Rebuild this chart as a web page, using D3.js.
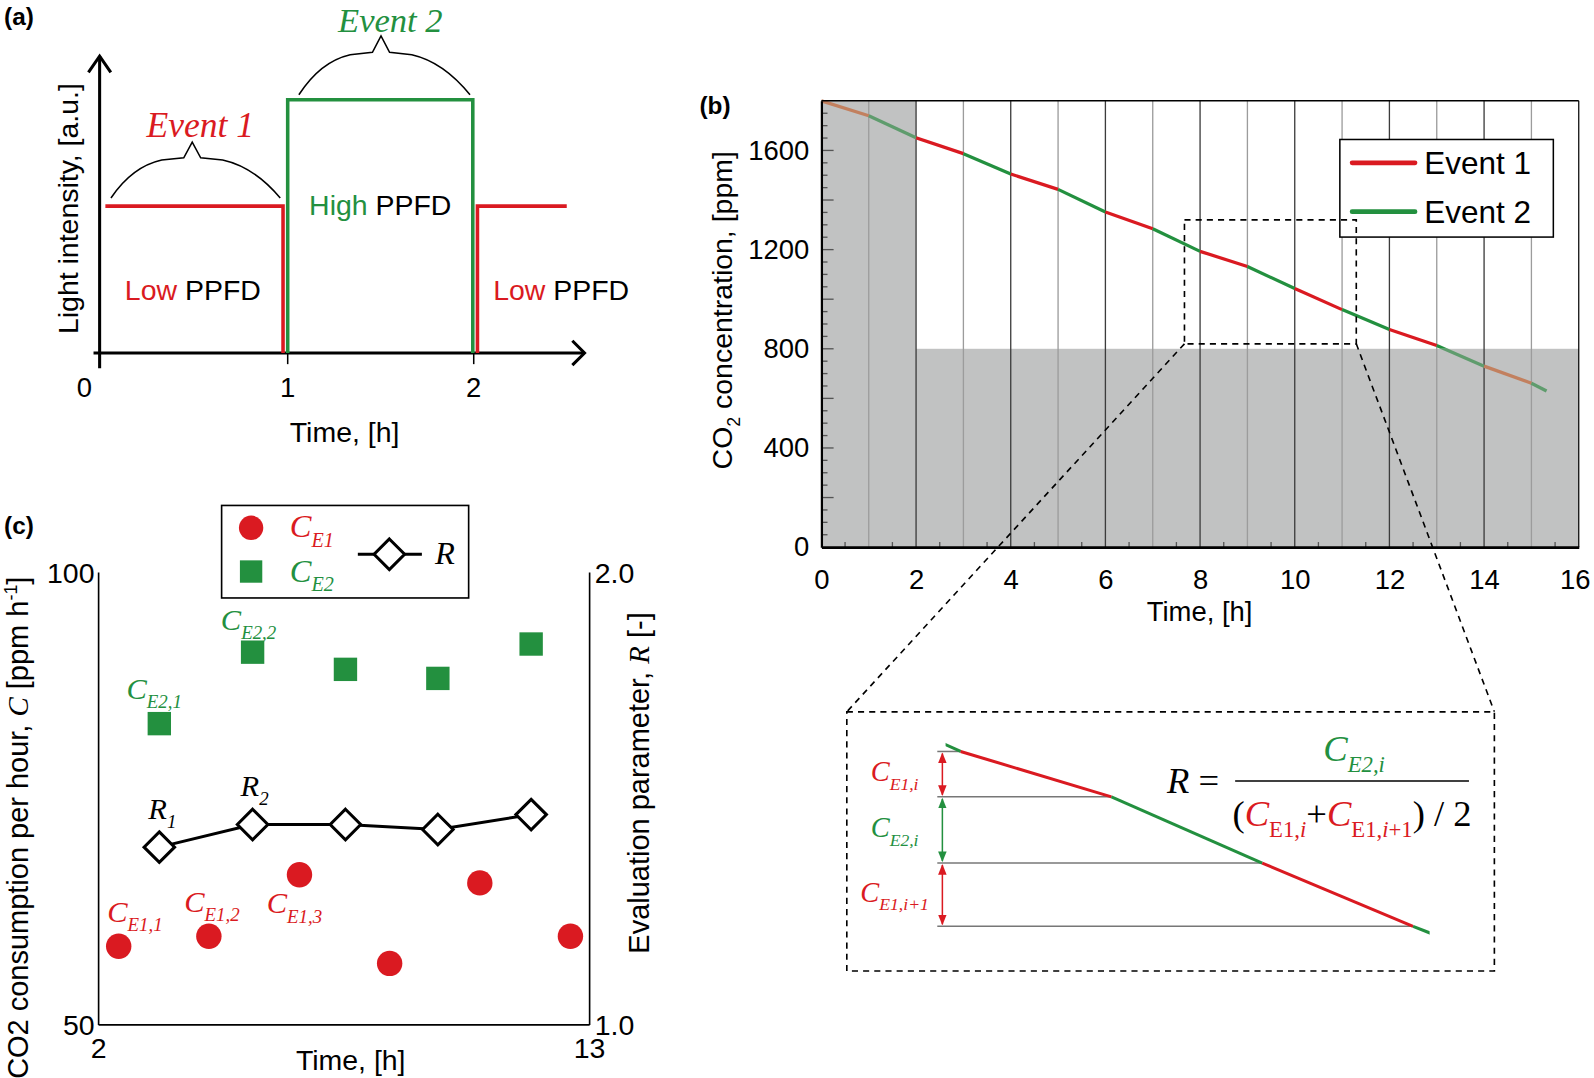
<!DOCTYPE html>
<html><head><meta charset="utf-8">
<script src="https://cdn.jsdelivr.net/npm/d3@7"></script>
<style>body{margin:0;background:#fff}</style>
</head><body>
<svg id="fig" width="1594" height="1078" viewBox="0 0 1568 1060"></svg>
<script>
// ================= DATA =================
// Panel (a): light schedule
const aEvent = [1, 2, 1];
const aStart = [0.02, 1.0, 2.02];
const aEnd = [0.975, 1.995, 2.5];
const aLevel = [0.58, 1.0, 0.58];
const aTicks = [0, 1, 2];
const aText = ["Low", "High", "Low"];
// Panel (b): CO2 concentration
const bHours = [0, 1, 2, 3, 4, 5, 6, 7, 8, 9, 10, 11, 12, 13, 14, 15, 15.32];
const bCO2 = [1800, 1740, 1651, 1587, 1505, 1443, 1352, 1284, 1193, 1132, 1043, 958, 878, 813, 730, 661, 630];
const bSegEvent = [1, 2, 1, 2, 1, 2, 1, 2, 1, 2, 1, 2, 1, 2, 1, 2];
const bYTicks = [0, 400, 800, 1200, 1600];
const bXTicks = [0, 2, 4, 6, 8, 10, 12, 14, 16];
const bShadeHour = 2, bShadeCO2 = 800;
const bZoomHours = [7.67, 11.3], bZoomCO2 = [820, 1320];
const insetHours = [7.9, 11.11];
const insetMarks = [8, 9, 10, 11];
// Panel (c)
const cE1Time = [2.45, 4.47, 6.5, 8.52, 10.54, 12.57];
const cE1 = [58.7, 59.8, 66.6, 56.8, 65.7, 59.8];
const cE2Time = [3.36, 5.45, 7.53, 9.6, 11.69];
const cE2 = [83.3, 91.2, 89.3, 88.3, 92.1];
const cR = [1.393, 1.443, 1.443, 1.432, 1.465];

// ================= STYLE =================
const RED = '#da1a21', GREEN = '#23903f', RED_M = '#c2805f', GREEN_M = '#5f9c6d';
const GRAY = '#c1c2c2';
const SANS = "'Liberation Sans', Arial, sans-serif";
const SERIF = "'Liberation Serif', 'Times New Roman', serif";
const svg = d3.select('#fig');
const defs = svg.append('defs');

function rich(g, x, y, parts, size, anchor, family, style) {
  const t = g.append('text').attr('x', x).attr('y', y).attr('font-size', size)
    .attr('text-anchor', anchor || 'start').attr('font-family', family || SERIF)
    .attr('font-style', style || 'normal');
  let cur = 0;
  parts.forEach(p => {
    const off = p.sub ? size * 0.3 : p.sup ? -size * 0.4 : 0;
    const ts = t.append('tspan').attr('dy', off - cur).text(p.t);
    cur = off;
    if (p.sub || p.sup) ts.attr('font-size', size * 0.62);
    if (p.fill) ts.attr('fill', p.fill);
    if (p.family) ts.attr('font-family', p.family);
    if (p.style) ts.attr('font-style', p.style);
  });
  return t;
}
function cLabel(g, x, y, sub, color, size, anchor) {
  return rich(g, x, y, [{t: 'C', fill: color}, {t: sub, sub: true, fill: color}], size, anchor || 'middle', SERIF, 'italic');
}

// ================= PANEL (a) =================
const ga = svg.append('g');
const xa = d3.scaleLinear().domain([0, 2.5]).range([100, 557.5]);
const ya = d3.scaleLinear().domain([0, 1]).range([347, 98]);
ga.append('text').attr('x', 4).attr('y', 24).attr('font-family', SANS).attr('font-weight', 'bold').attr('font-size', 24).text('(a)');
const ax0 = xa(0) - 2;
ga.append('line').attr('x1', ax0).attr('x2', ax0).attr('y1', 362).attr('y2', 55).attr('stroke', '#000').attr('stroke-width', 3);
ga.append('polyline').attr('points', `${ax0-11},71 ${ax0},55 ${ax0+11},71`).attr('fill', 'none').attr('stroke', '#000').attr('stroke-width', 3);
ga.append('line').attr('x1', 92).attr('x2', 575).attr('y1', ya(0)).attr('y2', ya(0)).attr('stroke', '#000').attr('stroke-width', 3);
ga.append('polyline').attr('points', `563,${ya(0)-12} 575,${ya(0)} 563,${ya(0)+12}`).attr('fill', 'none').attr('stroke', '#000').attr('stroke-width', 3);
aTicks.forEach(t => {
  if (t > 0) ga.append('line').attr('x1', xa(t)).attr('x2', xa(t)).attr('y1', ya(0)).attr('y2', ya(0) + 11).attr('stroke', '#000').attr('stroke-width', 1.5);
  ga.append('text').attr('x', t === 0 ? xa(t) - 17 : xa(t)).attr('y', 390).attr('text-anchor', 'middle')
    .attr('font-family', SANS).attr('font-size', 27).text(t);
});
aEvent.forEach((ev, i) => {
  const pts = [];
  if (i > 0) pts.push([aStart[i], 0]);
  pts.push([aStart[i], aLevel[i]], [aEnd[i], aLevel[i]]);
  if (i < aEvent.length - 1) pts.push([aEnd[i], 0]);
  ga.append('path').attr('d', d3.line().x(d => xa(d[0])).y(d => ya(d[1]))(pts))
    .attr('fill', 'none').attr('stroke', ev === 1 ? RED : GREEN).attr('stroke-width', 3.5);
  const cx = i === 1 ? (xa(aStart[i]) + xa(aEnd[i])) / 2 : (i === 0 ? xa(0.49) : xa(2.0) + 86);
  const cy = i === 1 ? ya(aLevel[1]) + 113 : 295;
  rich(ga, cx, cy, [{t: aText[i] + ' ', fill: ev === 1 ? RED : GREEN}, {t: 'PPFD', fill: '#000'}], 28, 'middle', SANS);
});
function brace(x0, x1, yb, h) {
  const w = x1 - x0, P = (fx, fy) => `${x0 + fx * w},${yb - fy * h}`;
  return `M${P(0,0)} C${P(0.08,0.36)} ${P(0.18,0.6)} ${P(0.3,0.68)} L${P(0.43,0.72)} L${P(0.48,1)} L${P(0.53,0.72)} L${P(0.66,0.68)} C${P(0.78,0.6)} ${P(0.9,0.36)} ${P(1,0)}`;
}
ga.append('path').attr('d', brace(xa(0.05), xa(0.96), ya(aLevel[0]) - 8, 55)).attr('fill', 'none').attr('stroke', '#000').attr('stroke-width', 1.5);
ga.append('path').attr('d', brace(xa(1.06), xa(1.98), ya(aLevel[1]) - 5, 58)).attr('fill', 'none').attr('stroke', '#000').attr('stroke-width', 1.5);
ga.append('text').attr('x', 197).attr('y', 135).attr('text-anchor', 'middle').attr('font-family', SERIF).attr('font-style', 'italic')
  .attr('font-size', 35).attr('fill', RED).text('Event 1');
ga.append('text').attr('x', 384).attr('y', 31).attr('text-anchor', 'middle').attr('font-family', SERIF).attr('font-style', 'italic')
  .attr('font-size', 34).attr('fill', GREEN).text('Event 2');
ga.append('text').attr('transform', 'translate(77,205) rotate(-90)').attr('text-anchor', 'middle').attr('font-family', SANS)
  .attr('font-size', 28).text('Light intensity, [a.u.]');
ga.append('text').attr('x', 339).attr('y', 435).attr('text-anchor', 'middle').attr('font-family', SANS).attr('font-size', 28).text('Time, [h]');

// ================= PANEL (b) =================
const gb = svg.append('g');
const xb = d3.scaleLinear().domain([0, 16]).range([808, 1553]);
const yb = d3.scaleLinear().domain([0, 1800]).range([538, 99]);
gb.append('text').attr('x', 688).attr('y', 112).attr('font-family', SANS).attr('font-weight', 'bold').attr('font-size', 24).text('(b)');
gb.append('rect').attr('x', xb(0)).attr('y', yb(1800)).attr('width', xb(bShadeHour) - xb(0)).attr('height', yb(0) - yb(1800)).attr('fill', GRAY);
gb.append('rect').attr('x', xb(0)).attr('y', yb(bShadeCO2)).attr('width', xb(16) - xb(0)).attr('height', yb(0) - yb(bShadeCO2)).attr('fill', GRAY);
d3.range(1, 16).forEach(h => {
  gb.append('line').attr('x1', xb(h)).attr('x2', xb(h)).attr('y1', yb(1800)).attr('y2', yb(0))
    .attr('stroke', h % 2 === 0 ? '#3c3c3c' : '#9c9c9c').attr('stroke-width', 1.3);
});
d3.range(0.5, 16, 1).forEach(h => {
  gb.append('line').attr('x1', xb(h)).attr('x2', xb(h)).attr('y1', yb(0)).attr('y2', yb(0) - 5).attr('stroke', '#555').attr('stroke-width', 1.3);
});
d3.range(50, 1800, 50).forEach(v => {
  const len = v % 200 === 0 ? 12 : 6;
  gb.append('line').attr('x1', xb(0)).attr('x2', xb(0) + len).attr('y1', yb(v)).attr('y2', yb(v)).attr('stroke', '#555').attr('stroke-width', 1.3);
});
const cpW = defs.append('clipPath').attr('id', 'clipWhite');
cpW.append('rect').attr('x', xb(bShadeHour)).attr('y', yb(1800) - 10).attr('width', xb(16) - xb(bShadeHour) + 10).attr('height', yb(bShadeCO2) - yb(1800) + 10);
const cpG = defs.append('clipPath').attr('id', 'clipGray');
cpG.append('rect').attr('x', xb(0) - 10).attr('y', yb(1800) - 10).attr('width', xb(bShadeHour) - xb(0) + 10).attr('height', yb(0) - yb(1800) + 10);
cpG.append('rect').attr('x', xb(0)).attr('y', yb(bShadeCO2)).attr('width', xb(16) - xb(0) + 10).attr('height', yb(0) - yb(bShadeCO2));
function drawSegments(g, sx, sy, colorFn, width) {
  bSegEvent.forEach((ev, i) => {
    g.append('path').attr('d', d3.line().x(d => sx(d[0])).y(d => sy(d[1]))([[bHours[i], bCO2[i]], [bHours[i + 1], bCO2[i + 1]]]))
      .attr('fill', 'none').attr('stroke', colorFn(ev)).attr('stroke-width', width).attr('stroke-linecap', 'butt');
  });
}
drawSegments(gb.append('g').attr('clip-path', 'url(#clipWhite)'), xb, yb, ev => ev === 1 ? RED : GREEN, 3.2);
drawSegments(gb.append('g').attr('clip-path', 'url(#clipGray)'), xb, yb, ev => ev === 1 ? RED_M : GREEN_M, 3.2);
gb.append('line').attr('x1', xb(0)).attr('x2', xb(16)).attr('y1', yb(1800)).attr('y2', yb(1800)).attr('stroke', '#000').attr('stroke-width', 1.5);
gb.append('line').attr('x1', xb(16)).attr('x2', xb(16)).attr('y1', yb(1800)).attr('y2', yb(0)).attr('stroke', '#000').attr('stroke-width', 1.2);
const axL = d3.axisLeft(yb).tickValues(bYTicks).tickFormat(d3.format('d')).tickSize(0).tickPadding(12);
const gL = gb.append('g').attr('transform', `translate(${xb(0)},0)`).call(axL);
gL.select('.domain').attr('stroke', '#000').attr('stroke-width', 2.2);
gL.selectAll('text').attr('font-family', SANS).attr('font-size', 27).attr('fill', '#000');
const axB = d3.axisBottom(xb).tickValues(bXTicks).tickFormat(d3.format('d')).tickSize(0).tickPadding(22);
const gB = gb.append('g').attr('transform', `translate(0,${yb(0)})`).call(axB);
gB.select('.domain').attr('stroke', '#000').attr('stroke-width', 2.5);
gB.selectAll('text').attr('font-family', SANS).attr('font-size', 27).attr('fill', '#000');
gB.selectAll('.tick').filter(d => d === 16).select('text').attr('dx', -4);
gb.append('text').attr('x', 1180).attr('y', 611).attr('text-anchor', 'middle').attr('font-family', SANS).attr('font-size', 27).text('Time, [h]');
rich(gb, 0, 0, [{t: 'CO'}, {t: '2', sub: true}, {t: ' concentration, [ppm]'}], 28, 'middle', SANS)
  .attr('transform', 'translate(720,305) rotate(-90)');
const lg = gb.append('g');
lg.append('rect').attr('x', 1318).attr('y', 137).attr('width', 210).attr('height', 96).attr('fill', '#fff').attr('stroke', '#000').attr('stroke-width', 1.5);
[[1, 'Event 1', 160], [2, 'Event 2', 208]].forEach(([ev, txt, yy]) => {
  lg.append('line').attr('x1', 1330).attr('x2', 1392).attr('y1', yy).attr('y2', yy).attr('stroke', ev === 1 ? RED : GREEN).attr('stroke-width', 4.5).attr('stroke-linecap', 'round');
  lg.append('text').attr('x', 1401).attr('y', yy + 11).attr('font-family', SANS).attr('font-size', 31).text(txt);
});
const zx0 = xb(bZoomHours[0]), zx1 = xb(bZoomHours[1]), zy0 = yb(bZoomCO2[1]), zy1 = yb(bZoomCO2[0]);
const dash = '6,5';
gb.append('rect').attr('x', zx0).attr('y', zy0).attr('width', zx1 - zx0).attr('height', zy1 - zy0)
  .attr('fill', 'none').attr('stroke', '#000').attr('stroke-width', 1.6).attr('stroke-dasharray', dash);
const inX0 = 833, inX1 = 1470, inY0 = 700, inY1 = 955;
gb.append('line').attr('x1', zx0).attr('y1', zy1).attr('x2', inX0).attr('y2', inY0).attr('stroke', '#000').attr('stroke-width', 1.6).attr('stroke-dasharray', dash);
gb.append('line').attr('x1', zx1).attr('y1', zy1).attr('x2', inX1).attr('y2', inY0).attr('stroke', '#000').attr('stroke-width', 1.6).attr('stroke-dasharray', dash);

// ================= INSET =================
const gi = svg.append('g');
gi.append('rect').attr('x', inX0).attr('y', inY0).attr('width', inX1 - inX0).attr('height', inY1 - inY0)
  .attr('fill', '#fff').attr('stroke', '#000').attr('stroke-width', 1.6).attr('stroke-dasharray', dash);
const xi = d3.scaleLinear().domain([8, 11]).range([945, 1390]);
const yi = d3.scaleLinear().domain([1193, 958]).range([739, 911]);
const insetLevels = insetMarks.map(h => bCO2[bHours.indexOf(h)]);
insetMarks.forEach((h, k) => {
  gi.append('line').attr('x1', 922).attr('x2', xi(h)).attr('y1', yi(insetLevels[k])).attr('y2', yi(insetLevels[k]))
    .attr('stroke', '#777').attr('stroke-width', 1.5);
});
defs.append('clipPath').attr('id', 'clipInset').append('rect')
  .attr('x', xi(insetHours[0])).attr('y', inY0).attr('width', xi(insetHours[1]) - xi(insetHours[0])).attr('height', inY1 - inY0);
drawSegments(gi.append('g').attr('clip-path', 'url(#clipInset)'), xi, yi, ev => ev === 1 ? RED : GREEN, 3);
[RED, GREEN].forEach((c, k) => {
  defs.append('marker').attr('id', 'ah' + k).attr('viewBox', '0 0 10 10').attr('refX', 9).attr('refY', 5)
    .attr('markerWidth', 7).attr('markerHeight', 7).attr('orient', 'auto-start-reverse')
    .append('path').attr('d', 'M0,1 L10,5 L0,9 Z').attr('fill', c);
});
const insetSubs = ['E1,i', 'E2,i', 'E1,i+1'];
const insetCols = [RED, GREEN, RED];
insetSubs.forEach((s, k) => {
  const ya0 = yi(insetLevels[k]), ya1 = yi(insetLevels[k + 1]);
  gi.append('line').attr('x1', 927).attr('x2', 927).attr('y1', ya0 + 2).attr('y2', ya1 - 2)
    .attr('stroke', insetCols[k]).attr('stroke-width', 1.5)
    .attr('marker-start', `url(#ah${k === 1 ? 1 : 0})`).attr('marker-end', `url(#ah${k === 1 ? 1 : 0})`);
  cLabel(gi, 880, (ya0 + ya1) / 2 + 7, s, insetCols[k], 28, 'middle');
});
rich(gi, 1148, 780, [{t: 'R', style: 'italic'}, {t: ' =', style: 'normal'}], 36, 'start', SERIF);
gi.append('line').attr('x1', 1215).attr('x2', 1445).attr('y1', 768).attr('y2', 768).attr('stroke', '#000').attr('stroke-width', 1.5);
cLabel(gi, 1332, 748, 'E2,i', GREEN, 36, 'middle');
rich(gi, 1330, 812, [
  {t: '(', style: 'normal'}, {t: 'C', fill: RED, style: 'italic'}, {t: 'E1,', sub: true, fill: RED, style: 'normal'}, {t: 'i', sub: true, fill: RED, style: 'italic'},
  {t: '+', style: 'normal'}, {t: 'C', fill: RED, style: 'italic'}, {t: 'E1,', sub: true, fill: RED, style: 'normal'}, {t: 'i', sub: true, fill: RED, style: 'italic'}, {t: '+1', sub: true, fill: RED, style: 'normal'},
  {t: ') / 2', style: 'normal'}], 36, 'middle', SERIF);

// ================= PANEL (c) =================
const gc = svg.append('g');
const xc = d3.scaleLinear().domain([2, 13]).range([97, 580]);
const yc = d3.scaleLinear().domain([50, 100]).range([1008, 563]);
const yr = d3.scaleLinear().domain([1, 2]).range([1008, 563]);
gc.append('text').attr('x', 4).attr('y', 525).attr('font-family', SANS).attr('font-weight', 'bold').attr('font-size', 24).text('(c)');
gc.append('line').attr('x1', xc(2)).attr('x2', xc(2)).attr('y1', yc(100)).attr('y2', yc(50)).attr('stroke', '#000').attr('stroke-width', 1.6);
gc.append('line').attr('x1', xc(13)).attr('x2', xc(13)).attr('y1', yc(100)).attr('y2', yc(50)).attr('stroke', '#000').attr('stroke-width', 1.6);
gc.append('line').attr('x1', xc(2)).attr('x2', xc(13)).attr('y1', yc(50)).attr('y2', yc(50)).attr('stroke', '#000').attr('stroke-width', 1.6);
[50, 100].forEach(v => gc.append('text').attr('x', xc(2) - 4).attr('y', yc(v) + 10).attr('text-anchor', 'end').attr('font-family', SANS).attr('font-size', 28).text(v));
[1, 2].forEach(v => gc.append('text').attr('x', xc(13) + 5).attr('y', yr(v) + 10).attr('font-family', SANS).attr('font-size', 28).text(v.toFixed(1)));
[2, 13].forEach(v => gc.append('text').attr('x', xc(v)).attr('y', 1041).attr('text-anchor', 'middle').attr('font-family', SANS).attr('font-size', 28).text(v));
gc.append('text').attr('x', 345).attr('y', 1052).attr('text-anchor', 'middle').attr('font-family', SANS).attr('font-size', 28).text('Time, [h]');
rich(gc, 0, 0, [{t: 'CO2 consumption per hour, '}, {t: 'C', family: SERIF, style: 'italic'}, {t: ' [ppm h'}, {t: '-1', sup: true}, {t: ']'}], 28.5, 'middle', SANS)
  .attr('transform', 'translate(28,814) rotate(-90)');
rich(gc, 0, 0, [{t: 'Evaluation parameter, '}, {t: 'R', family: SERIF, style: 'italic'}, {t: ' [-]'}], 28.5, 'middle', SANS)
  .attr('transform', 'translate(638,770) rotate(-90)');
const diamond = (cx, cy, s) => `M${cx},${cy - s} L${cx + s},${cy} L${cx},${cy + s} L${cx - s},${cy} Z`;
gc.selectAll('.e1').data(cE1).enter().append('circle').attr('cx', (d, i) => xc(cE1Time[i])).attr('cy', d => yc(d)).attr('r', 12.5).attr('fill', RED);
gc.selectAll('.e2').data(cE2).enter().append('rect').attr('x', (d, i) => xc(cE2Time[i]) - 11.5).attr('y', d => yc(d) - 11.5)
  .attr('width', 23).attr('height', 23).attr('fill', GREEN);
gc.append('path').attr('d', d3.line().x((d, i) => xc(cE2Time[i])).y(d => yr(d))(cR)).attr('fill', 'none').attr('stroke', '#000').attr('stroke-width', 3);
gc.selectAll('.rr').data(cR).enter().append('path').attr('d', (d, i) => diamond(xc(cE2Time[i]), yr(d), 15))
  .attr('fill', '#fff').attr('stroke', '#000').attr('stroke-width', 3);
cLabel(gc, xc(cE2Time[0]) - 5, yc(cE2[0]) - 24, 'E2,1', GREEN, 30);
cLabel(gc, xc(cE2Time[1]) - 4, yc(cE2[1]) - 22, 'E2,2', GREEN, 30);
cLabel(gc, xc(cE1Time[0]) + 16, yc(cE1[0]) - 24, 'E1,1', RED, 30);
cLabel(gc, xc(cE1Time[1]) + 3, yc(cE1[1]) - 24, 'E1,2', RED, 30);
cLabel(gc, xc(cE1Time[2]) - 5, yc(cE1[2]) + 38, 'E1,3', RED, 30);
rich(gc, xc(cE2Time[0]) + 3, yr(cR[0]) - 28, [{t: 'R'}, {t: '1', sub: true}], 30, 'middle', SERIF, 'italic');
rich(gc, xc(cE2Time[1]) + 2, yr(cR[1]) - 28, [{t: 'R'}, {t: '2', sub: true}], 30, 'middle', SERIF, 'italic');
const lc = gc.append('g');
lc.append('rect').attr('x', 218).attr('y', 497).attr('width', 243).attr('height', 91).attr('fill', '#fff').attr('stroke', '#000').attr('stroke-width', 1.6);
lc.append('circle').attr('cx', 247).attr('cy', 519).attr('r', 12).attr('fill', RED);
lc.append('rect').attr('x', 236).attr('y', 551).attr('width', 22).attr('height', 22).attr('fill', GREEN);
cLabel(lc, 285, 528, 'E1', RED, 32, 'start');
cLabel(lc, 285, 572, 'E2', GREEN, 32, 'start');
lc.append('line').attr('x1', 352).attr('x2', 415).attr('y1', 545).attr('y2', 545).attr('stroke', '#000').attr('stroke-width', 3);
lc.append('path').attr('d', diamond(383, 545, 15)).attr('fill', '#fff').attr('stroke', '#000').attr('stroke-width', 3);
lc.append('text').attr('x', 428).attr('y', 555).attr('font-family', SERIF).attr('font-style', 'italic').attr('font-size', 32).text('R');
</script>
</body></html>
